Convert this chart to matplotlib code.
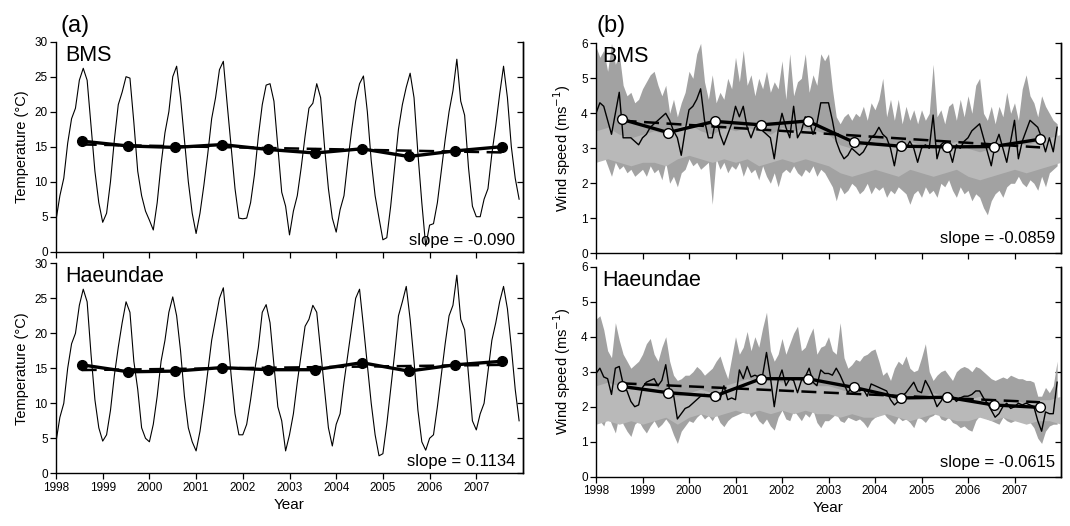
import numpy as np
import matplotlib
matplotlib.use("Agg")
import matplotlib.pyplot as plt

plt.rcParams['font.family'] = ['Liberation Sans', 'DejaVu Sans']

# ---------------- data ----------------
years = list(range(1998, 2008))
year_ticks = [1998, 1999, 2000, 2001, 2002, 2003, 2004, 2005, 2006, 2007]

# monthly temperature (Jan..Dec for each year)
temp_bms = [
    4.5, 8.0, 10.5, 15.5, 19.0, 20.5, 24.5, 26.2, 24.5, 18.0, 11.5, 7.0,
    4.2, 5.5, 10.0, 16.0, 21.0, 22.8, 25.0, 24.8, 18.5, 11.5, 8.0, 5.8,
    4.5, 3.1, 7.0, 12.5, 17.0, 20.0, 25.0, 26.5, 22.0, 16.0, 10.0, 5.5,
    2.6, 5.5, 9.5, 14.0, 19.0, 22.0, 26.0, 27.2, 21.0, 15.0, 9.0, 4.8,
    4.7, 4.8, 7.0, 11.0, 16.5, 21.0, 23.8, 24.0, 21.5, 15.0, 8.5, 6.5,
    2.4, 5.8, 8.0, 12.0, 16.5, 20.5, 21.2, 24.0, 22.0, 15.0, 9.0, 4.8,
    2.8, 6.0, 8.0, 13.0, 17.5, 21.5, 24.0, 25.1, 20.0, 13.0, 8.0, 4.8,
    1.7, 2.0, 6.5, 12.0, 17.5, 21.0, 23.5, 25.5, 22.0, 14.0, 7.0, 0.8,
    3.8, 4.0, 7.0, 11.5, 16.0, 20.0, 23.0, 27.5, 21.5, 19.5, 12.0, 6.5,
    5.0, 5.0, 7.5, 9.0, 14.0, 18.0, 22.5, 26.5, 22.0, 15.0, 10.5, 7.5,
]
temp_hae = [
    4.5, 8.0, 10.0, 15.0, 18.5, 20.0, 24.0, 26.3, 24.5, 17.0, 10.5, 6.5,
    4.6, 5.5, 9.0, 14.0, 18.0, 21.5, 24.5, 23.0, 16.0, 12.0, 6.5, 5.0,
    4.5, 7.0, 11.0, 16.0, 19.0, 23.0, 25.2, 22.5, 17.5, 11.0, 6.5, 4.5,
    3.2, 6.0, 10.0, 14.5, 19.0, 22.0, 25.0, 26.5, 20.5, 14.0, 8.5, 5.5,
    5.5, 7.0, 10.5, 14.5, 18.0, 23.0, 24.1, 21.5, 15.5, 9.5, 7.5, 3.2,
    5.5, 8.5, 13.0, 17.0, 21.0, 22.0, 24.0, 23.0, 17.5, 12.0, 6.5, 3.9,
    7.0, 8.5, 13.0, 17.0, 21.0, 25.0, 26.3, 21.0, 15.5, 10.0, 5.5, 2.5,
    2.8, 7.0, 12.0, 17.0, 22.5, 24.5, 26.7, 22.0, 16.0, 9.0, 4.5, 3.3,
    5.0, 5.5, 9.5, 14.0, 18.5, 22.5, 24.0, 28.3, 22.0, 20.5, 14.0, 7.5,
    6.2, 8.5, 10.0, 14.5, 19.0, 21.5, 24.5, 26.7, 23.5, 18.0, 12.0, 7.5,
]
temp_bms_annual = [15.8, 15.1, 14.9, 15.3, 14.6, 14.1, 14.7, 13.6, 14.4, 15.0]
temp_hae_annual = [15.5, 14.5, 14.6, 15.1, 14.8, 14.8, 15.8, 14.6, 15.5, 16.0]

# monthly wind speed (mean, upper and lower of the range)
wind_bms = [
    4.0, 4.3, 4.2, 3.8, 3.4, 4.0, 4.6, 3.3, 3.3, 3.3, 3.2, 3.1,
    3.3, 3.4, 3.6, 3.7, 3.8, 3.9, 4.0, 3.8, 3.5, 3.3, 2.8, 3.5,
    4.1, 4.2, 4.4, 4.7, 3.8, 3.3, 3.3, 3.9, 3.4, 3.1, 3.4, 3.7,
    4.2, 3.9, 4.2, 3.6, 3.3, 3.6, 3.7, 3.5, 3.4, 3.3, 2.7, 3.5,
    4.0, 3.6, 3.3, 4.2, 3.3, 3.5, 3.9, 3.8, 3.4, 3.7, 4.3, 4.3,
    4.3, 3.8, 3.2, 2.9, 2.7, 2.8, 3.0, 2.9, 2.8, 2.9, 3.1, 3.3,
    3.4, 3.6, 3.4, 3.3, 3.0, 2.5, 3.1, 3.2, 3.0, 3.2, 3.0, 2.6,
    3.0, 3.1, 3.0, 3.95, 2.7, 3.1, 3.2, 3.0, 2.6, 3.1, 3.0, 3.2,
    3.3, 3.5, 3.6, 3.7, 3.3, 2.9, 2.5, 3.1, 3.4, 3.0, 2.6, 3.2,
    3.8, 2.7, 3.2, 3.5, 3.8, 3.7, 3.6, 3.3, 2.9, 3.3, 2.9, 3.6,
]
wind_bms_upper = [
    5.9, 5.6, 5.8, 5.2, 6.0, 5.4, 5.7, 4.8, 4.5, 4.6, 4.3, 4.4,
    4.7, 4.9, 5.1, 5.2, 4.8, 4.5, 4.8, 4.0, 4.4, 3.9, 4.3, 4.6,
    5.2, 5.0, 5.7, 6.0, 4.9, 4.4, 5.1, 4.3, 4.6, 4.4, 5.0, 4.7,
    5.6, 4.9, 5.8, 4.8, 5.1, 4.5, 5.0, 4.7, 5.2, 4.6, 4.9, 4.7,
    5.5, 4.4, 5.7, 4.5, 4.9, 5.0, 5.7, 4.6, 5.1, 4.8, 5.7, 5.5,
    5.7, 4.7, 3.9, 3.7, 3.9, 4.0, 3.8, 4.0, 3.9, 4.2, 3.8, 4.3,
    4.1, 4.4, 5.0, 3.9, 4.4, 3.8, 4.4, 3.7, 4.2, 3.8, 4.1, 3.7,
    4.1, 3.8, 4.0, 5.4, 3.9, 4.1, 3.7, 4.2, 4.3, 3.8, 4.4, 3.9,
    4.5, 4.0, 4.8, 5.0, 4.0, 3.8, 4.2, 3.7, 4.2, 3.9, 4.6, 4.0,
    4.3, 3.8, 4.7, 5.1, 4.5, 4.3, 3.9, 4.5, 4.2, 4.0, 3.8, 3.7,
]
wind_bms_lower = [
    2.8, 2.7, 2.8, 2.5, 2.2, 2.6, 2.4, 2.5, 2.3, 2.4, 2.2, 2.3,
    2.4, 2.2, 2.5, 2.3, 2.4, 2.1, 2.6, 2.0, 2.2, 1.9, 2.3, 2.4,
    2.7, 2.5, 2.6, 2.4, 2.5, 2.6, 1.4, 2.7, 2.4, 2.6, 2.3, 2.5,
    2.4, 2.6, 2.2, 2.5, 2.3, 2.4, 2.1, 2.5, 2.2, 2.0, 2.3, 1.9,
    2.3, 2.4, 2.3, 2.5, 2.3, 2.2, 2.4, 2.3, 2.5, 2.2, 2.4, 2.3,
    2.1, 1.9, 1.5, 1.9, 1.7, 1.8, 2.0, 1.9, 1.7, 1.8, 2.0, 1.7,
    1.9, 1.8, 1.9, 1.6, 1.8, 1.7, 1.9, 1.8, 1.7, 1.4, 1.7, 1.8,
    1.6, 1.9, 1.7, 1.8, 1.6, 2.0, 1.9, 2.1, 1.8, 1.6, 1.9, 1.7,
    1.8, 1.5, 1.7, 1.6, 1.3, 1.1, 1.5, 1.7, 1.8, 1.6, 1.9, 2.0,
    2.0, 2.2, 2.0, 1.9, 2.1, 2.0, 1.8, 2.2, 1.9, 2.3, 2.4, 2.5,
]
# inner (lighter) band, quarterly from 1998.0 to 2008.0
wind_bms_inner_lo = [2.6, 2.7, 2.6, 2.5, 2.6, 2.6, 2.5, 2.7, 2.8, 2.7, 2.6, 2.7, 2.6, 2.7,
                     2.5, 2.6, 2.7, 2.6, 2.7, 2.6, 2.5, 2.3, 2.2, 2.3, 2.4, 2.3, 2.2, 2.4,
                     2.3, 2.2, 2.3, 2.4, 2.2, 2.1, 2.2, 2.3, 2.4, 2.3, 2.4, 2.5, 2.6]
wind_bms_inner_hi = [3.5, 3.6, 3.4, 3.3, 3.4, 3.5, 3.4, 3.6, 3.7, 3.5, 3.4, 3.6, 3.5, 3.6,
                     3.5, 3.4, 3.6, 3.5, 3.6, 3.5, 3.4, 3.1, 3.0, 3.1, 3.2, 3.1, 3.0, 3.2,
                     3.1, 3.0, 3.1, 3.2, 3.0, 2.9, 3.0, 3.1, 3.2, 3.1, 3.2, 3.3, 3.4]
wind_bms_annual = [3.83, 3.45, 3.77, 3.67, 3.78, 3.17, 3.06, 3.04, 3.05, 3.26]

wind_hae = [
    2.95, 3.1, 2.85, 2.8, 2.35, 3.1, 3.15, 2.65, 2.45, 2.15, 2.0, 2.05,
    2.55, 2.7, 2.75, 2.8, 2.6, 2.75, 3.2, 2.45, 2.35, 1.65, 1.8, 1.95,
    2.0, 2.1, 2.2, 2.3, 2.35, 2.3, 2.4, 2.35, 2.2, 2.6, 2.2, 2.25,
    2.2, 3.05, 2.8, 3.15, 2.85, 2.9, 2.85, 2.9, 3.55, 2.85, 2.0, 2.75,
    3.05, 2.6, 2.8, 2.75, 2.4, 2.75, 2.85, 3.1, 2.7, 2.6, 3.05, 2.95,
    2.95, 2.9, 3.1, 2.9, 2.65, 2.4, 2.55, 2.5, 2.45, 2.5, 2.3, 2.65,
    2.6, 2.55, 2.5, 2.45, 2.2, 2.05, 2.15, 2.3, 2.4, 2.55, 2.7, 2.45,
    2.4, 2.75, 2.55, 2.3, 2.0, 2.15, 2.35, 2.4, 2.3, 2.15, 2.25, 2.3,
    2.3, 2.35, 2.45, 2.45, 2.25, 2.1, 1.9, 1.7, 1.8, 2.0, 2.1, 1.95,
    2.0, 2.1, 2.05, 2.1, 2.05, 2.0, 1.6, 1.3, 1.85, 1.8, 1.8, 2.7,
]
wind_hae_upper = [
    4.5, 4.6, 4.2, 3.6, 3.4, 4.4, 3.9, 3.5, 3.3, 3.1, 3.2, 3.3,
    3.5, 3.8, 3.95, 3.5, 3.3, 3.7, 4.0, 3.3, 2.9, 2.75, 2.8, 2.9,
    2.9, 3.0, 3.15, 3.05, 2.9, 3.0, 3.1, 3.3, 3.45, 3.1, 2.8, 3.4,
    4.0, 3.5, 3.7, 4.15, 3.6, 4.0, 3.7, 4.25, 4.7, 3.6, 3.3, 3.5,
    3.95, 3.5, 3.8, 4.1, 4.3, 3.6, 3.7, 4.0, 4.25, 3.5, 3.7, 3.75,
    4.0, 3.6, 3.5, 4.4, 3.4, 3.1, 3.2, 3.35, 3.3, 3.45, 3.5, 3.6,
    3.65, 3.3, 2.9, 3.0, 2.75, 3.1, 3.3, 3.2, 3.45, 3.1, 3.0, 3.05,
    3.4, 3.8, 3.0, 2.75, 2.9, 3.0, 3.05, 2.9, 2.75, 3.0, 3.1, 3.15,
    3.1, 3.0, 3.15, 3.1, 3.0, 2.9, 2.8, 2.75, 2.8, 2.85, 2.8, 2.9,
    2.85, 2.8, 2.8, 2.75, 2.75, 2.7, 2.3, 2.3, 2.55, 2.4, 2.6, 3.3,
]
wind_hae_lower = [
    2.0, 1.6, 1.45, 1.8, 1.5, 1.25, 1.8, 1.5, 1.3, 1.15, 1.5, 1.6,
    1.4, 1.25, 1.45, 1.6, 1.4, 1.5, 1.65, 1.5, 1.2, 0.95, 1.3, 1.45,
    1.6, 1.55, 1.7, 1.8, 1.65, 1.75, 1.6, 1.8, 1.55, 1.43, 1.6, 1.7,
    1.75, 1.8, 1.85, 1.9, 1.7, 1.81, 1.6, 1.5, 1.65, 1.45, 1.33, 1.7,
    1.9, 1.65, 1.6, 1.9, 1.75, 1.6, 1.8, 1.7, 1.9, 1.55, 1.4, 1.6,
    1.6, 1.7, 1.8, 1.6, 1.55, 1.7, 1.65, 1.6, 1.65, 1.55, 1.4, 1.6,
    1.7, 1.75, 1.85, 1.7, 1.6, 1.5, 1.7, 1.6, 1.65, 1.55, 1.4, 1.7,
    1.65, 1.55, 1.7, 1.75, 1.85, 1.65, 1.6, 1.7, 1.55, 1.5, 1.4, 1.45,
    1.35, 1.3, 1.6, 1.75, 1.7, 1.65, 1.6, 1.55, 1.5, 1.7, 1.6, 1.55,
    1.6, 1.65, 1.7, 1.6, 1.55, 1.4, 1.1, 0.95, 1.3, 1.45, 1.5, 1.5,
]
wind_hae_inner_lo = [1.5, 1.6, 1.5, 1.6, 1.5, 1.6, 1.7, 1.5, 1.7, 1.8, 1.7, 1.8, 1.9, 1.8,
                     1.9, 1.8, 1.9, 1.8, 1.9, 1.8, 1.8, 1.7, 1.8, 1.7, 1.7, 1.8, 1.7, 1.6,
                     1.7, 1.8, 1.7, 1.6, 1.6, 1.7, 1.6, 1.7, 1.6, 1.5, 1.6, 1.6, 1.5]
wind_hae_inner_hi = [2.6, 2.7, 2.6, 2.5, 2.6, 2.6, 2.4, 2.3, 2.4, 2.5, 2.4, 2.6, 2.7, 2.8,
                     2.7, 2.8, 2.7, 2.8, 2.7, 2.6, 2.6, 2.5, 2.4, 2.5, 2.4, 2.3, 2.4, 2.3,
                     2.3, 2.4, 2.3, 2.2, 2.2, 2.3, 2.2, 2.1, 2.2, 2.1, 2.2, 2.2, 2.3]
wind_hae_annual = [2.58, 2.40, 2.30, 2.80, 2.80, 2.55, 2.25, 2.27, 2.05, 1.98]

slope_labels = ["slope = -0.090", "slope = 0.1134", "slope = -0.0859", "slope = -0.0615"]
stations = ["BMS", "Haeundae"]

# ---------------- layout ----------------
month_x = 1998 + np.arange(120) / 12.0
quarter_x = 1998 + np.arange(41) / 4.0
annual_x = np.array(years) + 0.55

fig = plt.figure(figsize=(10.7, 5.26), dpi=100)
W, H = 1070.0, 526.0

def axes_px(x0, x1, ytop, ybot):
    return fig.add_axes([x0 / W, 1 - ybot / H, (x1 - x0) / W, (ybot - ytop) / H])

ax_a1 = axes_px(56, 523, 41.7, 251.7)
ax_a2 = axes_px(56, 523, 263.3, 473.3)
ax_b1 = axes_px(596, 1061, 43.3, 253.3)
ax_b2 = axes_px(596, 1061, 266.7, 476.7)

def style(ax, ymax, ystep, show_xlabels):
    ax.set_xlim(1998, 2008)
    ax.set_ylim(0, ymax)
    ax.spines['top'].set_visible(False)
    for s in ['left', 'bottom', 'right']:
        ax.spines[s].set_linewidth(1.0)
    ax.set_xticks(year_ticks)
    yt = np.arange(0, ymax + 0.001, ystep)
    ax.set_yticks(yt)
    ax.tick_params(axis='both', direction='out', length=4, width=0.9,
                   labelsize=8.5, pad=2)
    if show_xlabels:
        ax.set_xticklabels([str(y) for y in year_ticks])
    else:
        ax.set_xticklabels([])
    r = ax.secondary_yaxis('right')
    r.set_yticks(yt)
    r.set_yticklabels([])
    r.tick_params(direction='in', length=4, width=0.9)
    r.spines['right'].set_linewidth(1.0)

def trend(ax, vals):
    c = np.polyfit(annual_x, vals, 1)
    ax.plot(annual_x[[0, -1]], np.polyval(c, annual_x[[0, -1]]), color='black',
            lw=1.8, ls=(0, (6, 3)), zorder=4)

# panel (a)
for ax, temp, ann, st, sl in [(ax_a1, temp_bms, temp_bms_annual, stations[0], slope_labels[0]),
                              (ax_a2, temp_hae, temp_hae_annual, stations[1], slope_labels[1])]:
    ax.plot(month_x, temp, color='black', lw=0.8, zorder=3)
    trend(ax, ann)
    ax.plot(annual_x, ann, color='black', lw=2.4, marker='o', ms=7,
            mfc='black', mec='black', zorder=5)
    style(ax, 30, 5, ax is ax_a2)
    ax.set_ylabel('Temperature (°C)', fontsize=10.5, labelpad=4)
    ax.text(0.02, 0.985, st, transform=ax.transAxes, fontsize=15.5,
            ha='left', va='top')
    ax.text(0.983, 0.055, sl, transform=ax.transAxes, fontsize=12,
            ha='right', va='center')

# panel (b)
for ax, m, up, lo, ilo, ihi, ann, st, sl in [
        (ax_b1, wind_bms, wind_bms_upper, wind_bms_lower, wind_bms_inner_lo,
         wind_bms_inner_hi, wind_bms_annual, stations[0], slope_labels[2]),
        (ax_b2, wind_hae, wind_hae_upper, wind_hae_lower, wind_hae_inner_lo,
         wind_hae_inner_hi, wind_hae_annual, stations[1], slope_labels[3])]:
    ax.fill_between(month_x, lo, up, color='#a2a2a2', lw=0, zorder=1)
    ax.fill_between(quarter_x, ilo, ihi, color='#b9b9b9', lw=0, zorder=1.5)
    ax.plot(month_x, m, color='black', lw=1.0, zorder=3)
    trend(ax, ann)
    ax.plot(annual_x, ann, color='black', lw=2.4, marker='o', ms=7,
            mfc='white', mec='black', mew=1.0, zorder=5)
    style(ax, 6, 1, ax is ax_b2)
    ax.set_ylabel('Wind speed (ms$^{-1}$)', fontsize=10.5, labelpad=6)
    ax.text(0.013, 0.985, st, transform=ax.transAxes, fontsize=15.5,
            ha='left', va='top')
    ax.text(0.987, 0.07, sl, transform=ax.transAxes, fontsize=12,
            ha='right', va='center')

ax_a2.set_xlabel('Year', fontsize=11, labelpad=3)
ax_b2.set_xlabel('Year', fontsize=11, labelpad=3)

fig.text(60 / W, 1 - 26 / H, '(a)', fontsize=17, ha='left', va='center')
fig.text(597 / W, 1 - 26 / H, '(b)', fontsize=17, ha='left', va='center')

fig.savefig('out.png', dpi=100)
